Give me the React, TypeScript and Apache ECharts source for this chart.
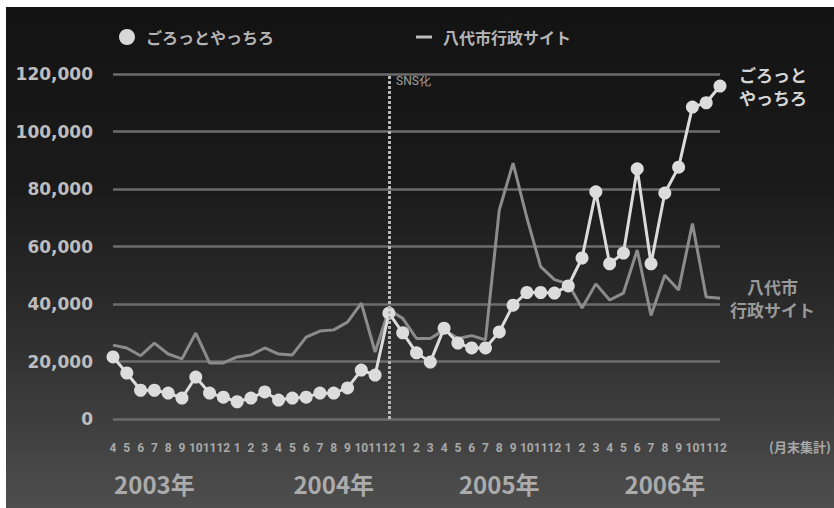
import React, { useEffect, useRef } from "react";
import * as echarts from "echarts";

const monthLabels: string[] = [
  "4", "5", "6", "7", "8", "9", "10", "11", "12",
  "1", "2", "3", "4", "5", "6", "7", "8", "9", "10", "11", "12",
  "1", "2", "3", "4", "5", "6", "7", "8", "9", "10", "11", "12",
  "1", "2", "3", "4", "5", "6", "7", "8", "9", "10", "11", "12",
];
const yearLabels: string[] = ["2003年", "2004年", "2005年", "2006年"];
const yearLabelIndex: number[] = [3, 16, 28, 40];

const goroValues: number[] = [
  21600, 16000, 10000, 10000, 9000, 7300, 14600, 9000, 7600,
  6000, 7300, 9400, 6600, 7300, 7600, 9000, 9000, 10800, 17000, 15300, 36800,
  30000, 23000, 19800, 31600, 26400, 24700, 24700, 30300, 39600, 44000, 44000, 43800,
  46300, 56000, 79000, 54000, 57700, 87000, 54000, 78600, 87600, 108500, 110000, 115800,
];
const cityValues: number[] = [
  25700, 24700, 22000, 26400, 22600, 20900, 29900, 19500, 19500,
  21600, 22300, 24700, 22600, 22300, 28500, 30600, 31000, 33700, 40300, 23300, 38000,
  35000, 28000, 28000, 31000, 28000, 29000, 27500, 72700, 89000, 70000, 53000, 48500,
  47000, 38600, 47000, 41400, 43800, 58800, 36000, 50000, 44900, 68000, 42400, 42000,
];
const seriesNames: string[] = ["ごろっとやっちろ", "八代市行政サイト"];
const sndIndex = 20;

const JP = "'Noto Sans CJK JP', 'Noto Sans', sans-serif";
const COND = "Roboto, 'Liberation Sans', sans-serif";

export default function App() {
  const ref = useRef<HTMLDivElement>(null);
  useEffect(() => {
    document.body.style.margin = "0";
    if (!ref.current) return;
    const chart = echarts.init(ref.current, undefined, { renderer: "svg" });
    chart.setOption({
      animation: false,
      backgroundColor: "transparent",
      grid: { left: 107, right: 114, top: 67, bottom: 89 },
      legend: {
        left: 108,
        top: 17,
        itemGap: 142,
        itemWidth: 16,
        itemHeight: 16,
        textStyle: {
          color: "#b5b5b5",
          fontSize: 16,
          fontFamily: JP,
          fontWeight: "bold",
          padding: [0, 0, 0, 6],
        },
        data: [
          { name: seriesNames[0], icon: "circle", itemStyle: { color: "#d8d8d8" } },
          {
            name: seriesNames[1],
            icon: "path://M0,7 L16,7 L16,10 L0,10 Z",
            itemStyle: { color: "#bdbdbd" },
          },
        ],
      },
      xAxis: [
        {
          type: "category",
          data: monthLabels,
          boundaryGap: false,
          axisLine: { show: false },
          axisTick: { show: false },
          splitLine: { show: false },
          axisLabel: {
            interval: 0,
            margin: 23,
            color: "#a8a8a8",
            fontSize: 12,
            fontWeight: "bold",
            fontFamily: COND,
          },
        },
        {
          type: "category",
          data: monthLabels,
          boundaryGap: false,
          position: "bottom",
          axisLine: { show: false },
          axisTick: { show: false },
          splitLine: { show: false },
          axisLabel: {
            interval: (i: number) => yearLabelIndex.indexOf(i) >= 0,
            formatter: (_v: string, i: number) => {
              const k = yearLabelIndex.indexOf(i);
              return k >= 0 ? yearLabels[k] : "";
            },
            margin: 52,
            color: "#ababab",
            fontSize: 24,
            fontWeight: "bold",
            fontFamily: JP,
          },
        },
      ],
      yAxis: {
        type: "value",
        min: 0,
        max: 120000,
        interval: 20000,
        axisLine: { show: false },
        axisTick: { show: false },
        splitLine: { lineStyle: { color: "#6c6c6c", width: 2.5 } },
        axisLabel: {
          margin: 20,
          color: "#bdbdbd",
          fontSize: 17,
          fontWeight: "bold",
          fontFamily: "'DejaVu Sans', sans-serif",
          formatter: (v: number) => v.toLocaleString("en-US"),
        },
      },
      series: [
        {
          name: seriesNames[1],
          type: "line",
          data: cityValues,
          symbol: "none",
          lineStyle: { color: "#8c8c8c", width: 3 },
          itemStyle: { color: "#8c8c8c" },
          z: 2,
          endLabel: {
            show: true,
            formatter: "\u3000八代市\n行政サイト",
            distance: 10,
            color: "#9a9a9a",
            fontSize: 17,
            lineHeight: 23,
            fontWeight: "bold",
            fontFamily: JP,
          },
          markLine: {
            silent: true,
            symbol: "none",
            label: { show: false },
            lineStyle: { color: "#b8b8b8", width: 3, type: [3, 2] },
            data: [{ xAxis: sndIndex }],
          },
        },
        {
          name: seriesNames[0],
          type: "line",
          data: goroValues,
          symbol: "circle",
          symbolSize: 13,
          lineStyle: { color: "#dcdcdc", width: 3 },
          itemStyle: { color: "#dcdcdc" },
          z: 3,
          endLabel: {
            show: true,
            formatter: "ごろっと\nやっちろ",
            distance: 19,
            color: "#d6d6d6",
            fontSize: 17,
            lineHeight: 23,
            fontWeight: "bold",
            fontFamily: JP,
          },
        },
      ],
      graphic: [
        {
          type: "text",
          left: 390,
          top: 68,
          style: { text: "SNS化", fill: "#a0a0a0", fontSize: 12, fontFamily: COND },
        },
        {
          type: "text",
          left: 763,
          top: 433,
          style: { text: "(月末集計)", fill: "#a8a8a8", fontSize: 13, fontWeight: "bold", fontFamily: JP },
        },
      ],
    });
    return () => chart.dispose();
  }, []);
  return (
    <div style={{ position: "relative", width: 834, height: 508, background: "#ffffff", overflow: "hidden" }}>
      <div
        style={{
          position: "absolute",
          left: 6,
          top: 7,
          width: 828,
          height: 501,
          background: "linear-gradient(to bottom, #131313 0%, #1a1a1a 35%, #2e2e2e 65%, #4e4e4e 100%)",
        }}
      >
        <div ref={ref} style={{ width: 828, height: 501 }} />
      </div>
    </div>
  );
}
